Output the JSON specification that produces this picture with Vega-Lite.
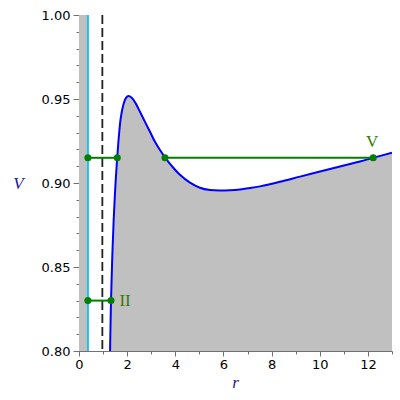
{
  "$schema": "https://vega.github.io/schema/vega-lite/v6.json",
  "width": 313,
  "height": 336,
  "autosize": {"type": "none"},
  "padding": {"left": 79, "top": 15, "right": 8, "bottom": 49},
  "background": "white",
  "config": {
    "view": {"stroke": null},
    "axis": {
      "grid": false,
      "labelFlush": false,
      "domainColor": "#707070",
      "tickColor": "#707070",
      "labelFont": "DejaVu Sans",
      "labelFontSize": 13,
      "labelColor": "#000000",
      "titleFont": "Liberation Serif",
      "titleFontStyle": "italic",
      "titleFontWeight": "normal",
      "titleFontSize": 17,
      "titleColor": "#22228a"
    }
  },
  "datasets": {
    "curve": [
      {"r": 1.29, "V": 0.800},
      {"r": 1.33, "V": 0.830},
      {"r": 1.38, "V": 0.855},
      {"r": 1.44, "V": 0.878},
      {"r": 1.50, "V": 0.8955},
      {"r": 1.566, "V": 0.9107},
      {"r": 1.661, "V": 0.9286},
      {"r": 1.732, "V": 0.9385},
      {"r": 1.84, "V": 0.9464},
      {"r": 1.939, "V": 0.9504},
      {"r": 2.047, "V": 0.9518},
      {"r": 2.189, "V": 0.9508},
      {"r": 2.355, "V": 0.9474},
      {"r": 2.533, "V": 0.9424},
      {"r": 2.741, "V": 0.9364},
      {"r": 2.949, "V": 0.9305},
      {"r": 3.156, "V": 0.9245},
      {"r": 3.364, "V": 0.9196},
      {"r": 3.571, "V": 0.9153},
      {"r": 3.85, "V": 0.9102},
      {"r": 4.17, "V": 0.9052},
      {"r": 4.61, "V": 0.9002},
      {"r": 5.02, "V": 0.8972},
      {"r": 5.44, "V": 0.8958},
      {"r": 5.86, "V": 0.8955},
      {"r": 6.27, "V": 0.8957},
      {"r": 6.69, "V": 0.8962},
      {"r": 7.11, "V": 0.8970},
      {"r": 7.52, "V": 0.8980},
      {"r": 8.35, "V": 0.9007},
      {"r": 9.18, "V": 0.9038},
      {"r": 10.01, "V": 0.9068},
      {"r": 10.84, "V": 0.9098},
      {"r": 11.67, "V": 0.9128},
      {"r": 12.22, "V": 0.9150},
      {"r": 13.0, "V": 0.9180}
    ],
    "segments": [
      {"seg": "a", "r": 0.37, "r2": 1.59, "V": 0.915},
      {"seg": "b", "r": 3.571, "r2": 12.22, "V": 0.915},
      {"seg": "c", "r": 0.37, "r2": 1.33, "V": 0.83}
    ],
    "points": [
      {"r": 0.37, "V": 0.915},
      {"r": 1.59, "V": 0.915},
      {"r": 3.571, "V": 0.915},
      {"r": 12.22, "V": 0.915},
      {"r": 0.37, "V": 0.83},
      {"r": 1.33, "V": 0.83}
    ],
    "labelII": [{"r": 1.68, "V": 0.8295, "text": "II"}],
    "labelV": [{"r": 12.17, "V": 0.9245, "text": "V"}],
    "strip": [{"r": 0, "r2": 0.37, "V": 0.8, "V2": 1.0}],
    "verts": [{"r": 0.37, "kind": "cyan"}, {"r": 0.97, "kind": "dash"}]
  },
  "resolve": {"axis": {"x": "independent", "y": "independent"}},
  "layer": [
    {
      "data": {"name": "strip"},
      "mark": {"type": "rect", "color": "#c0c0c0"},
      "encoding": {
        "x": {"field": "r", "type": "quantitative", "scale": {"domain": [0, 13], "nice": false},
          "axis": {"title": "r", "values": [0, 2, 4, 6, 8, 10, 12], "format": "d", "tickSize": 5, "labelPadding": 2,
            "titleAngle": 0, "titleX": 156, "titleY": 31, "titleBaseline": "middle", "titleAlign": "center"}},
        "x2": {"field": "r2"},
        "y": {"field": "V", "type": "quantitative", "scale": {"domain": [0.8, 1.0], "nice": false, "zero": false},
          "axis": {"title": "V", "values": [0.8, 0.85, 0.9, 0.95, 1.0], "format": ".2f", "tickSize": 6, "labelPadding": 3,
            "titleAngle": 0, "titleX": -61, "titleY": 168, "titleBaseline": "middle", "titleAlign": "center"}},
        "y2": {"field": "V2"}
      }
    },
    {
      "data": {"name": "curve"},
      "mark": {"type": "area", "color": "#c0c0c0", "interpolate": "catmull-rom", "clip": true},
      "encoding": {
        "x": {"field": "r", "type": "quantitative", "axis": {"orient": "bottom", "values": [1, 3, 5, 7, 9, 11, 13], "labels": false, "domain": false, "tickSize": 3, "title": null}},
        "y": {"field": "V", "type": "quantitative", "axis": {"orient": "left", "values": [0.81, 0.82, 0.83, 0.84, 0.86, 0.87, 0.88, 0.89, 0.91, 0.92, 0.93, 0.94, 0.96, 0.97, 0.98, 0.99], "labels": false, "domain": false, "tickSize": 3, "title": null}},
        "y2": {"datum": 0.8}
      }
    },
    {
      "data": {"name": "curve"},
      "mark": {"type": "line", "color": "#0000ff", "strokeWidth": 2, "interpolate": "catmull-rom", "clip": true},
      "encoding": {
        "x": {"field": "r", "type": "quantitative", "axis": null},
        "y": {"field": "V", "type": "quantitative", "axis": null}
      }
    },
    {
      "data": {"name": "verts"},
      "mark": {"type": "rule"},
      "encoding": {
        "x": {"field": "r", "type": "quantitative", "axis": null},
        "color": {"field": "kind", "type": "nominal", "scale": {"domain": ["cyan", "dash"], "range": ["#1ec0f0", "#222222"]}, "legend": null},
        "strokeDash": {"field": "kind", "type": "nominal", "scale": {"domain": ["cyan", "dash"], "range": [[1, 0], [9, 4]]}, "legend": null},
        "strokeWidth": {"field": "kind", "type": "nominal", "scale": {"domain": ["cyan", "dash"], "range": [2, 1.8]}, "legend": null}
      }
    },
    {
      "data": {"name": "segments"},
      "mark": {"type": "rule", "color": "#008000", "strokeWidth": 2},
      "encoding": {
        "x": {"field": "r", "type": "quantitative", "axis": null},
        "x2": {"field": "r2"},
        "y": {"field": "V", "type": "quantitative", "axis": null}
      }
    },
    {
      "data": {"name": "points"},
      "mark": {"type": "circle", "color": "#008000", "opacity": 1, "size": 50},
      "encoding": {
        "x": {"field": "r", "type": "quantitative", "axis": null},
        "y": {"field": "V", "type": "quantitative", "axis": null}
      }
    },
    {
      "data": {"name": "labelII"},
      "mark": {"type": "text", "color": "#3a7a00", "font": "Liberation Serif", "fontSize": 17, "baseline": "middle", "align": "left"},
      "encoding": {
        "x": {"field": "r", "type": "quantitative", "axis": null},
        "y": {"field": "V", "type": "quantitative", "axis": null},
        "text": {"field": "text"}
      }
    },
    {
      "data": {"name": "labelV"},
      "mark": {"type": "text", "color": "#3a7a00", "font": "Liberation Serif", "fontSize": 17, "baseline": "middle", "align": "center"},
      "encoding": {
        "x": {"field": "r", "type": "quantitative", "axis": null},
        "y": {"field": "V", "type": "quantitative", "axis": null},
        "text": {"field": "text"}
      }
    }
  ]
}
